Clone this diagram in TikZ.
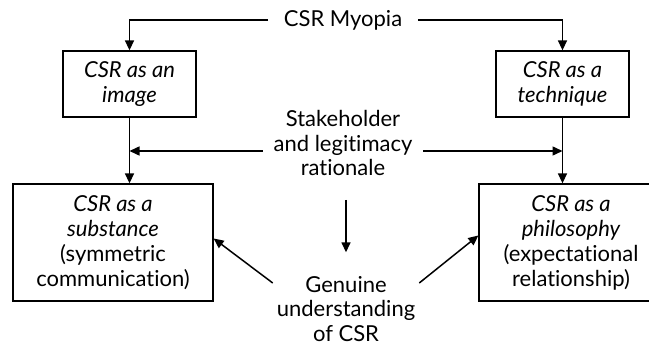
\documentclass[tikz,border=0pt]{standalone}
\usepackage{fontspec}
\setmainfont{Lato}[Ligatures=NoCommon]
\usetikzlibrary{arrows.meta}
\begin{document}
\begin{tikzpicture}[x=1pt, y=-1pt, >={Triangle[length=10pt,width=9pt]}, line width=1.5pt,
  box/.style = {draw, line width=1.3pt, align=center, minimum width=133pt, minimum height=66pt, font=\itshape\fontsize{22}{25}\selectfont},
  bigbox/.style = {box, minimum height=117pt},
  lbl/.style = {align=center, font=\fontsize{22}{24.5}\selectfont}]
\useasboundingbox (0,0) rectangle (649,345);
\node[lbl, inner xsep=15pt] (myopia) at (343,20) {CSR Myopia};
\node[box] (image) at (129.5,84) {CSR as an\\image};
\node[box] (technique) at (562.5,84) {CSR as a\\technique};
\node[lbl, inner xsep=10pt] (stake) at (343,143) {Stakeholder\\and legitimacy\\rationale};
\node[bigbox, minimum width=200pt] (substance) at (113,242.5) {CSR as a\\substance\\{\upshape(symmetric}\\{\upshape communication)}};
\node[bigbox, minimum width=184pt] (philosophy) at (571,242.5) {CSR as a\\philosophy\\{\upshape(expectational}\\{\upshape relationship)}};
\node[lbl] (genuine) at (346,309) {Genuine\\understanding\\of CSR};
\coordinate (sl) at ([yshift=-8pt]stake.west);
\coordinate (sr) at ([yshift=-8pt]stake.east);
\draw[->] (myopia.west) -| (image.north);
\draw[->] (myopia.east) -| (technique.north);
\draw[->] (image.south) -- (image.south |- substance.north);
\draw[->] (technique.south) -- (technique.south |- philosophy.north);
\draw[->] (sl) -- (sl -| image.south);
\draw[->] (sr) -- (sr -| technique.south);
\draw[->, shorten <=20pt, shorten >=20pt] (genuine.north |- stake.south) -- (genuine.north);
\draw[->] ([yshift=26pt]genuine.west) -- ([yshift=4pt]substance.east);
\draw[->] ([yshift=26pt]genuine.east) -- ([yshift=7pt]philosophy.west);
\end{tikzpicture}
\end{document}
